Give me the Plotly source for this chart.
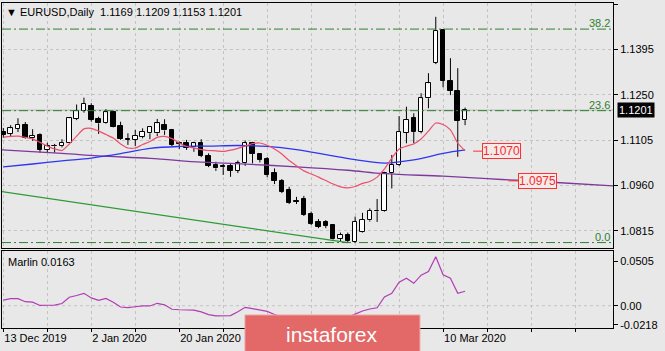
import plotly.graph_objects as go

# ---------------- data ----------------
bars = list(range(64))
opens = [1.1132, 1.1126, 1.1142, 1.1153, 1.1111, 1.1122, 1.1075, 1.1086, 1.1086, 1.1097,
         1.1173, 1.1199, 1.1214, 1.1172, 1.1159, 1.1196, 1.1150, 1.1110, 1.1106, 1.1116,
         1.1127, 1.1127, 1.1152, 1.1138, 1.1096, 1.1097, 1.1082, 1.1095, 1.1055, 1.1027,
         1.1022, 1.1024, 1.1007, 1.1031, 1.1095, 1.1060, 1.1044, 1.1000, 1.0976, 1.0946,
         1.0912, 1.0918, 1.0870, 1.0843, 1.0843, 1.0833, 1.0789, 1.0801, 1.0781, 1.0813,
         1.0849, 1.0878, 1.0880, 1.1000, 1.1026, 1.1129, 1.1175, 1.1132, 1.1239, 1.1352,
         1.1457, 1.1295, 1.1263, 1.1169]
highs = [1.1144, 1.1153, 1.1175, 1.1163, 1.1140, 1.1127, 1.1097, 1.1093, 1.1108, 1.1178,
         1.1219, 1.1241, 1.1223, 1.1180, 1.1204, 1.1199, 1.1164, 1.1127, 1.1138, 1.1143,
         1.1150, 1.1173, 1.1172, 1.1141, 1.1101, 1.1106, 1.1100, 1.1108, 1.1063, 1.1036,
         1.1029, 1.1031, 1.1040, 1.1104, 1.1100, 1.1064, 1.1051, 1.1015, 1.0981, 1.0956,
         1.0924, 1.0927, 1.0877, 1.0853, 1.0850, 1.0836, 1.0810, 1.0810, 1.0861, 1.0873,
         1.0887, 1.0917, 1.1004, 1.1058, 1.1182, 1.1212, 1.1191, 1.1255, 1.1319, 1.1499,
         1.1459, 1.1367, 1.1335, 1.1209]
lows = [1.1112, 1.1115, 1.1131, 1.1109, 1.1103, 1.1065, 1.1067, 1.1065, 1.1082, 1.1095,
        1.1169, 1.1193, 1.1164, 1.1125, 1.1157, 1.1146, 1.1106, 1.1090, 1.1086, 1.1111,
        1.1108, 1.1118, 1.1122, 1.1086, 1.1077, 1.1074, 1.1068, 1.1051, 1.1019, 1.1007,
        1.0994, 1.0988, 1.1000, 1.1023, 1.1031, 1.1034, 1.0987, 1.0965, 1.0936, 1.0901,
        1.0901, 1.0863, 1.0834, 1.0824, 1.0824, 1.0784, 1.0781, 1.0777, 1.0778, 1.0810,
        1.0845, 1.0844, 1.0877, 1.0951, 1.1023, 1.1095, 1.1095, 1.1127, 1.1207, 1.1348,
        1.1274, 1.1249, 1.1052, 1.1153]
closes = [1.1122, 1.1143, 1.1155, 1.1111, 1.1120, 1.1075, 1.1086, 1.1085, 1.1097, 1.1175,
          1.1198, 1.1222, 1.1170, 1.1159, 1.1194, 1.1148, 1.1110, 1.1107, 1.1120, 1.1132,
          1.1147, 1.1159, 1.1136, 1.1090, 1.1093, 1.1080, 1.1095, 1.1055, 1.1024, 1.1015,
          1.1019, 1.1008, 1.1031, 1.1095, 1.1062, 1.1043, 1.0994, 1.0975, 1.0940, 1.0905,
          1.0909, 1.0866, 1.0838, 1.0829, 1.0831, 1.0788, 1.0802, 1.0783, 1.0845, 1.0850,
          1.0880, 1.0880, 1.1000, 1.1026, 1.1132, 1.1170, 1.1132, 1.1239, 1.1287, 1.1455,
          1.1295, 1.1263, 1.1167, 1.1201]

ma_fast = [1.1114, 1.1117, 1.1118, 1.1114, 1.1109, 1.1098, 1.1086, 1.1077, 1.1072, 1.1093,
           1.1118, 1.1141, 1.1143, 1.1134, 1.1123, 1.1112, 1.1093, 1.1080, 1.1080, 1.1091,
           1.1101, 1.1114, 1.1117, 1.1110, 1.1096, 1.1085, 1.1080, 1.1075, 1.1072, 1.1071,
           1.1069, 1.1073, 1.1079, 1.1086, 1.1094, 1.1096, 1.1089, 1.1077, 1.1061, 1.1040,
           1.1023, 1.1007, 1.0997, 1.0987, 1.0976, 1.0965, 1.0956, 1.0953, 1.0957, 1.0967,
           1.0973, 1.0987, 1.1013, 1.1048, 1.1077, 1.1086, 1.1093, 1.1109, 1.1134, 1.1160,
           1.1155, 1.1138, 1.1096, 1.1071]

ma_mid_bars = [0, 4, 8, 12, 16, 20, 24, 28, 32, 36, 40, 44, 48, 52, 56, 60, 63]
ma_mid = [1.1020, 1.1029, 1.1039, 1.1048, 1.1062, 1.1079, 1.1085, 1.1086, 1.1088, 1.1085,
          1.1075, 1.1059, 1.1043, 1.1032, 1.1042, 1.1063, 1.1074]

ma_slow_bars = [-1, 8, 13, 20, 27, 31, 40, 47, 52, 60, 66, 70, 76, 84]
ma_slow = [1.1075, 1.1063, 1.1055, 1.1047, 1.1035, 1.1031, 1.1020, 1.1009, 1.0998, 1.0990,
           1.0982, 1.0977, 1.0969, 1.0958]

trend_bars = [-5, 47]
trend_prices = [1.0957, 1.0778]

fib_low, fib_high = 1.0778, 1.2563
fib_levels = [0.0, 23.6, 38.2]
fib_labels = ["0.0", "23.6", "38.2"]

marlin = [0.0064, 0.0080, 0.0080, 0.0045, 0.0040, 0.0003, 0.0005, 0.0006, 0.0025, 0.0095,
          0.0115, 0.0140, 0.0088, 0.0060, 0.0082, 0.0040, -0.0015, -0.0022, -0.0012, -0.0002,
          -0.0003, 0.0027, 0.0010, -0.0040, -0.0046, -0.0048, -0.0050, -0.0070, -0.0100, -0.0115,
          -0.0116, -0.0112, -0.0068, -0.0018, -0.0033, -0.0048, -0.0065, -0.0100, -0.0125, -0.0160,
          -0.0190, -0.0210, -0.0225, -0.0235, -0.0240, -0.0245, -0.0205, -0.0130, -0.0095, -0.0060,
          -0.0037, -0.0023, 0.0100, 0.0140, 0.0265, 0.0310, 0.0253, 0.0345, 0.0385, 0.0554,
          0.0350, 0.0310, 0.0140, 0.0163]

price_ticks = [1.0815, 1.0960, 1.1105, 1.1250, 1.1395, 1.1540]
marlin_ticks = [-0.0218, 0.0, 0.0505]
marlin_tick_text = ["-0.0218", "0.00", "0.0505"]

date_tick_bars = list(range(0, 84, 6))
# labels at bars 36 and 48 are hidden behind the watermark in the reference
date_labels = {0: "13 Dec 2019", 12: "2 Jan 2020", 24: "20 Jan 2020", 60: "10 Mar 2020"}

last_price = 1.1201
label_values = [1.1070, 1.0975]
label_bars = [65.3, 70.2]
label_lead = [64.1, 68.9]

# ---------------- styling ----------------
BG = "#e8e8e8"
FONT = "Liberation Sans, Arial, sans-serif"
GRID = "#c3c3c3"

fig = go.Figure()

# candle bodies
body_base = [min(o, c) for o, c in zip(opens, closes)]
body_h = [max(abs(c - o), 0.00004) for o, c in zip(opens, closes)]
body_col = ["white" if c >= o else "black" for o, c in zip(opens, closes)]

# wicks (split around the body)
wx, wy = [], []
for b, o, h, l, c in zip(bars, opens, highs, lows, closes):
    top, bot = max(o, c), min(o, c)
    if h > top:
        wx += [b, b, None]; wy += [h, top, None]
    if l < bot:
        wx += [b, b, None]; wy += [bot, l, None]

fig.add_trace(go.Scatter(x=wx, y=wy, mode="lines", line=dict(color="black", width=1),
                         hoverinfo="skip", showlegend=False, xaxis="x", yaxis="y"))
fig.add_trace(go.Bar(x=bars, y=body_h, base=body_base, width=0.62,
                     marker=dict(color=body_col, line=dict(color="black", width=1)),
                     hoverinfo="skip", showlegend=False, xaxis="x", yaxis="y"))

# moving averages & trend line
fig.add_trace(go.Scatter(x=ma_slow_bars, y=ma_slow, mode="lines", line=dict(color="#7d3a9c", width=1.3, shape="spline"),
                         hoverinfo="skip", showlegend=False))
fig.add_trace(go.Scatter(x=ma_mid_bars, y=ma_mid, mode="lines", line=dict(color="#2f35f0", width=1.3, shape="spline"),
                         hoverinfo="skip", showlegend=False))
fig.add_trace(go.Scatter(x=bars, y=ma_fast, mode="lines", line=dict(color="#ee4f6c", width=1.2, shape="spline", smoothing=0.6),
                         hoverinfo="skip", showlegend=False))
fig.add_trace(go.Scatter(x=trend_bars, y=trend_prices, mode="lines", line=dict(color="#2e9a36", width=1.2),
                         hoverinfo="skip", showlegend=False))

# indicator
fig.add_trace(go.Scatter(x=bars, y=marlin, mode="lines", line=dict(color="#b23cb4", width=1.2),
                         hoverinfo="skip", showlegend=False, xaxis="x2", yaxis="y2"))

shapes = []
# current price line
shapes.append(dict(type="line", xref="x domain", yref="y", x0=0, x1=1, y0=last_price, y1=last_price,
                   line=dict(color="#b5b5b5", width=1), layer="below"))
# fib levels
annotations = []
for lev, lab in zip(fib_levels, fib_labels):
    p = fib_low + (fib_high - fib_low) * lev / 100.0
    shapes.append(dict(type="line", xref="x domain", yref="y", x0=0, x1=1, y0=p, y1=p,
                       line=dict(color="#2f7f2f", width=1, dash="9px,3px,2px,3px")))
    annotations.append(dict(xref="paper", yref="y", x=0.996, y=p, xanchor="right", yanchor="bottom",
                            text=lab, showarrow=False, font=dict(family=FONT, size=11, color="#2f7f2f"),
                            borderpad=0, yshift=-1))
# zero line in indicator
shapes.append(dict(type="line", xref="x2 domain", yref="y2", x0=0, x1=1, y0=0, y1=0,
                   line=dict(color=GRID, width=1, dash="3px,3px"), layer="below"))

# price labels for MAs
for v, b, lb in zip(label_values, label_bars, label_lead):
    shapes.append(dict(type="line", xref="x", yref="y", x0=lb, x1=b, y0=v, y1=v,
                       line=dict(color="#ff3030", width=1)))
    annotations.append(dict(xref="x", yref="y", x=b, y=v, xanchor="left", yanchor="middle",
                            text=f"{v:.4f}", showarrow=False,
                            font=dict(family=FONT, size=12, color="#ff2a2a"),
                            bgcolor="#f3eaea", bordercolor="#ff3030", borderwidth=1, borderpad=0))

# current price box on axis
annotations.append(dict(xref="paper", yref="y", x=1, y=last_price, xanchor="left", yanchor="middle",
                        xshift=4, text=f"{last_price:.4f}", showarrow=False,
                        font=dict(family=FONT, size=11, color="white"), bgcolor="black", borderpad=1))

# title & indicator name
annotations.append(dict(xref="paper", yref="paper", x=0.004, y=0.973, xanchor="left", yanchor="middle",
                        text="▼ EURUSD,Daily  1.1169 1.1209 1.1153 1.1201", showarrow=False,
                        font=dict(family=FONT, size=11, color="black")))
annotations.append(dict(xref="paper", yref="paper", x=0.006, y=0.203, xanchor="left", yanchor="middle",
                        text="Marlin 0.0163", showarrow=False,
                        font=dict(family=FONT, size=11, color="black")))

# watermark
shapes.append(dict(type="rect", xref="paper", yref="paper", x0=0.3977, x1=0.684, y0=-0.075, y1=0.040,
                   fillcolor="#e36868", line=dict(color="#f0a2a2", width=1), layer="above"))
annotations.append(dict(xref="paper", yref="paper", x=0.540, y=-0.019, xanchor="center", yanchor="middle",
                        text="instaforex", showarrow=False,
                        font=dict(family=FONT, size=21, color="white")))

axis_font = dict(family=FONT, size=11, color="black")
xr = [-0.18, 83.18]
fig.update_layout(
    width=665, height=351, margin=dict(l=2, r=52, t=3, b=23),
    paper_bgcolor=BG, plot_bgcolor=BG, showlegend=False, bargap=0,
    shapes=shapes, annotations=annotations,
    xaxis=dict(domain=[0, 1], anchor="y", range=xr, tickvals=date_tick_bars, showticklabels=False,
               showgrid=True, gridcolor=GRID, griddash="3px,3px", gridwidth=1, zeroline=False,
               showline=True, mirror=True, linecolor="black", linewidth=1, ticks=""),
    yaxis=dict(domain=[0.2462, 1], anchor="x", side="right", range=[1.07607, 1.15432],
               tickvals=price_ticks, ticktext=[f"{t:.4f}" for t in price_ticks], tickfont=axis_font,
               ticks="outside", ticklen=4, tickcolor="black",
               showgrid=True, gridcolor=GRID, griddash="3px,3px", gridwidth=1, zeroline=False,
               showline=True, mirror=True, linecolor="black", linewidth=1),
    xaxis2=dict(domain=[0, 1], anchor="y2", range=xr, matches="x", tickvals=date_tick_bars,
                ticktext=[date_labels.get(b, "") for b in date_tick_bars], tickfont=axis_font,
                ticklabelposition="outside right", ticks="outside", ticklen=3, tickcolor="black",
                showgrid=True, gridcolor=GRID, griddash="3px,3px", gridwidth=1, zeroline=False,
                showline=True, mirror=True, linecolor="black", linewidth=1),
    yaxis2=dict(domain=[0, 0.2369], anchor="x2", side="right", range=[-0.0252, 0.0618],
                tickvals=marlin_ticks, ticktext=marlin_tick_text, tickfont=axis_font,
                ticks="outside", ticklen=4, tickcolor="black", showgrid=False, zeroline=False,
                showline=True, mirror=True, linecolor="black", linewidth=1),
)

fig.write_html("out.html")
